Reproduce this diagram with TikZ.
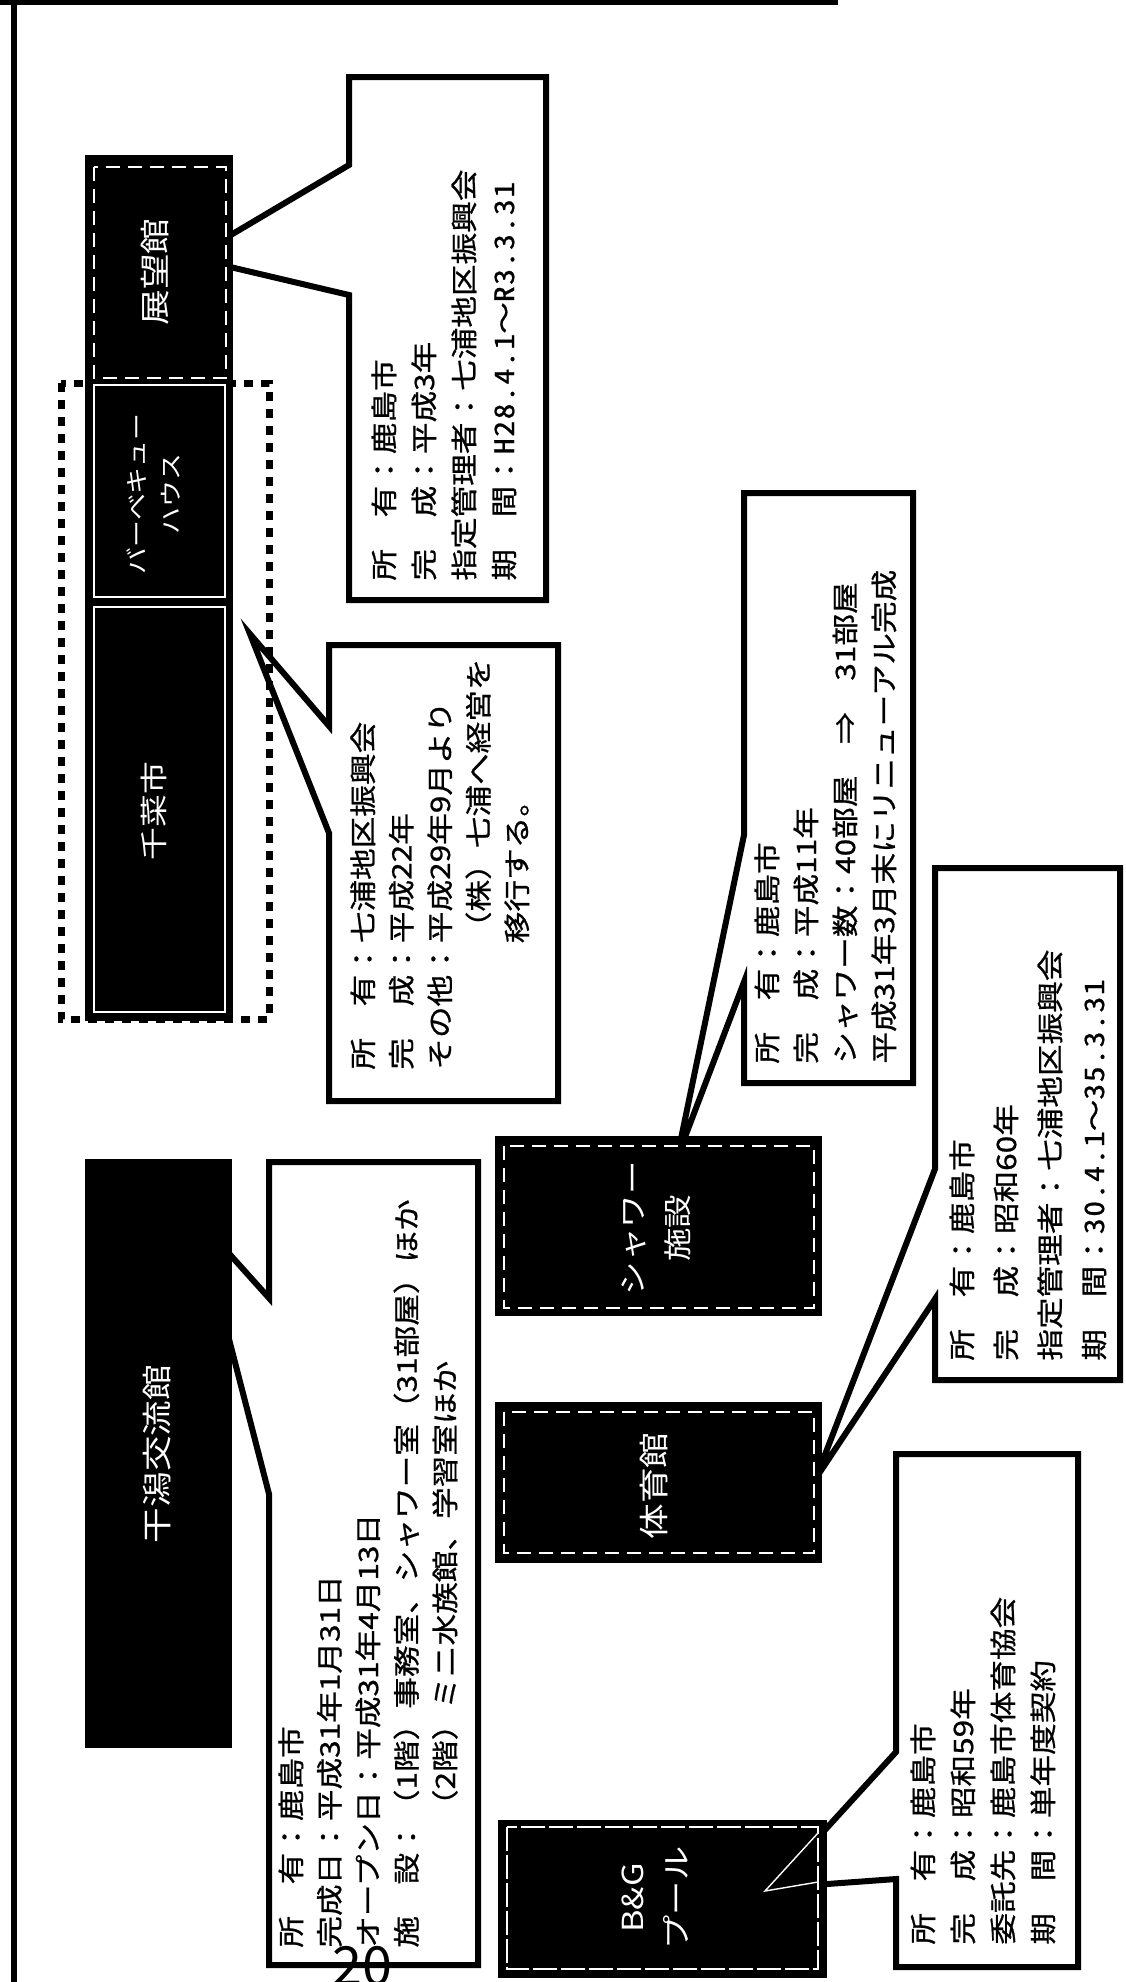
\documentclass[tikz,border=0pt]{standalone}
\usepackage{fontspec}
\newfontfamily\jp[FakeStretch=1.18]{Noto Sans CJK JP}
\newfontfamily\jpc[FakeStretch=1.18,FakeBold=0.8]{Noto Sans CJK JP}
\newfontfamily\jpcw[FakeStretch=1.18,FakeBold=0.8,RawFeature=+hwid,LetterSpace=6]{Noto Sans CJK JP}
\newfontfamily\jpplain{Noto Sans CJK JP}
\newcommand\latw[1]{{\jpcw #1}}
\usetikzlibrary{fit}
\begin{document}
\begin{tikzpicture}[x=0.5pt,y=-0.5pt,
  callbox/.style={draw=black,line width=3pt,fill=white,line join=miter,miter limit=20},
  bldg/.style={fill=black,inner sep=0pt,draw=none},
  inborder/.style={draw=white,line width=0.7pt},
  indash/.style={draw=white,line width=0.7pt,dash pattern=on 7pt off 4pt},
  infotext/.style={rotate=90,anchor=north west,inner sep=0pt,align=left,text=black,font=\jpc\fontsize{13.4pt}{#1}\selectfont},
  bldglabel/.style={rotate=90,inner sep=0pt,align=center,text=white},
  dotrect/.style={draw=black,line width=3.5pt,dash pattern=on 4.5pt off 4pt},
  frameline/.style={draw=black,line width=3pt}
]
\useasboundingbox (0,0) rectangle (1125,1982);
\clip (0,0) rectangle (1125,1982);
\fill[white] (0,0) rectangle (1125,1982);

% frame
\draw[frameline,line width=2.5pt] (0,2.5) -- (838,2.5);
\draw[frameline] (14,0) -- (14,1982);

% callout tips
\coordinate (tipA) at (192,258);
\coordinate (tipB) at (250,634);
\coordinate (tipC) at (677,1158);
\coordinate (tipD) at (816,1478);
\coordinate (tipE) at (198,1219);
\coordinate (tipF) at (772,1888);

% callouts
\draw[callbox] (349,77) -- (546,77) -- (546,600) -- (349,600) -- (349,295) -- (tipA) -- (349,165) -- cycle;
\draw[callbox] (329,645) -- (558,645) -- (558,1101) -- (329,1101) -- (329,833) -- (tipB) -- (329,726) -- cycle;
\draw[callbox] (744,493) -- (913,493) -- (913,1083) -- (744,1083) -- (744,982) -- (tipC) -- (744,835) -- cycle;
\draw[callbox] (935,868) -- (1120,868) -- (1120,1380) -- (935,1380) -- (935,1299) -- (tipD) -- (935,1169) -- cycle;
\draw[callbox] (269,1162) -- (478,1162) -- (478,1965) -- (269,1965) -- (269,1494) -- (tipE) -- (269,1298) -- cycle;
\draw[callbox] (896,1454) -- (1078,1454) -- (1078,1967) -- (896,1967) -- (896,1879) -- (tipF) -- (896,1752) -- cycle;

% dotted rectangle
\draw[dotrect] (61,383) rectangle (269,1019);

% buildings
\node[bldg,fit={(85,155)(233,1021)}] (col) {};
\node[bldg,fit={(85,1159)(232,1748)}] (hig) {};
\node[bldg,fit={(495,1136)(822,1316)}] (shw) {};
\node[bldg,fit={(495,1402)(822,1563)}] (gym) {};
\node[bldg,fit={(498,1820)(827,1978)}] (bg) {};

% inner borders
\draw[indash] (94,167) rectangle (226,378);
\draw[inborder] (94,385) rectangle (225,597);
\draw[inborder] (94,607) rectangle (225,1012);
\draw[indash] (504,1146) rectangle (814,1308);
\draw[indash] (504,1412) rectangle (814,1553);
\draw[inborder,dash pattern=on 12pt off 2pt] (507,1827) rectangle (818,1969);
\draw[inborder] (818,1833) -- (765,1891) -- (818,1882);

% building labels
\node[bldglabel,font=\jp\fontsize{15.1pt}{18pt}\selectfont] (lA) at (155,272) {展望館};
\node[bldglabel,font=\jp\fontsize{11.4pt}{17pt}\selectfont] (lBBQ) at (154,494) {バーベキュー\\ハウス};
\node[bldglabel,font=\jp\fontsize{13.9pt}{17pt}\selectfont] (lSen) at (154,811) {千菜市};
\node[bldglabel,font=\jp\fontsize{15.1pt}{18pt}\selectfont] (lHig) at (157,1454) {干潟交流館};
\node[bldglabel,font=\jp\fontsize{14.2pt}{22.5pt}\selectfont] (lShw) at (656,1228) {シャワー\\施設};
\node[bldglabel,font=\jp\fontsize{15.1pt}{18pt}\selectfont] (lGym) at (654,1486) {体育館};
\node[bldglabel,font=\jp\fontsize{14.5pt}{22pt}\selectfont] (lBG) at (655,1898) {B\&G\\プール};

% callout texts
\node[infotext=20pt] (tA) at (371,581) {所　有：鹿島市\\完　成：平成3年\\指定管理者：七浦地区振興会\\期　間：\latw{H28.4.1}～\latw{R3.3.31}};
\node[infotext=19.25pt] (tB) at (350,1070) {所　有：七浦地区振興会\\完　成：平成22年\\その他：平成29年9月より\\\phantom{その他：}（株）七浦へ経営を\\\phantom{その他：}移行する。};
\node[infotext=19.5pt] (tC) at (754,1064) {所　有：鹿島市\\完　成：平成11年\\シャワー数：40部屋　⇒　31部屋\\平成31年3月末にリニューアル完成};
\node[infotext=22pt] (tD) at (949,1361) {所　有：鹿島市\\完　成：昭和60年\\指定管理者：七浦地区振興会\\期　間：\latw{30.4.1}～\latw{35.3.31}};
\node[infotext=19.25pt] (tE) at (278,1948) {所　有：鹿島市\\完成日：平成31年1月31日\\オープン日：平成31年4月13日\\施　設：（1階）事務室、シャワー室（31部屋）ほか\\\phantom{施　設：}（2階）ミニ水族館、学習室ほか};
\node[infotext=20pt] (tF) at (910,1945) {所　有：鹿島市\\完　成：昭和59年\\委託先：鹿島市体育協会\\期　間：単年度契約};

% page number
\node[font=\jpplain\fontsize{27pt}{27pt}\selectfont,anchor=north,inner sep=0pt] (pageno) at (362,1946) {20};
\end{tikzpicture}
\end{document}
